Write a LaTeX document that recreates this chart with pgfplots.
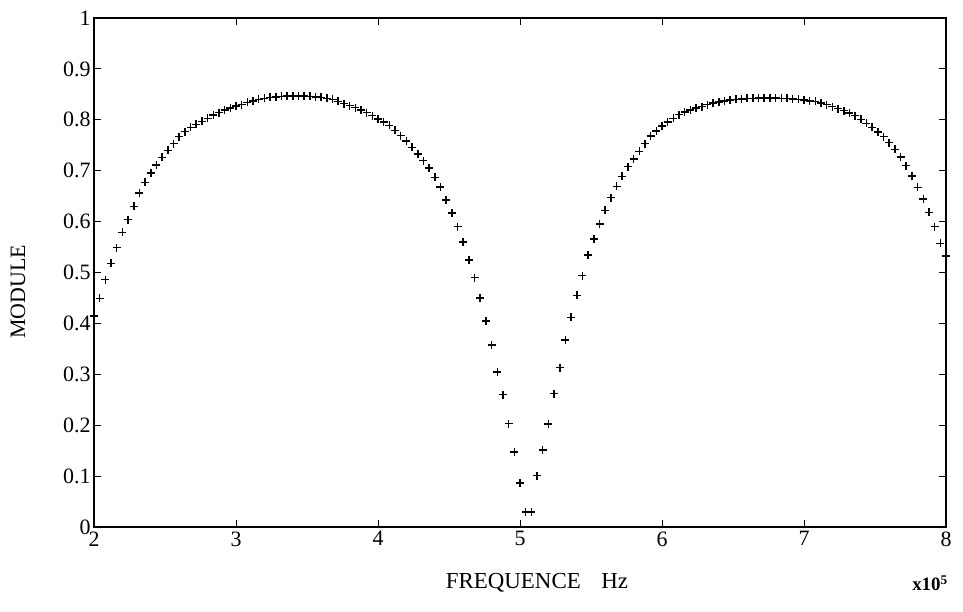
\documentclass[border=0pt]{standalone}
\usepackage{pgfplots}
\pgfplotsset{compat=1.18}
\usepackage{fontspec}
\setmainfont{Liberation Serif}
\begin{document}
\begin{tikzpicture}
\useasboundingbox (-94bp,-85bp) rectangle (869bp,527bp);
\begin{axis}[
  at={(0,0)}, anchor=south west,
  scale only axis, width=852bp, height=509bp,
  xmin=2, xmax=8, ymin=0, ymax=1,
  xtick={2,3,4,5,6,7,8},
  ytick={0,0.1,0.2,0.3,0.4,0.5,0.6,0.7,0.8,0.9,1},
  yticklabels={0,0.1,0.2,0.3,0.4,0.5,0.6,0.7,0.8,0.9,1},
  tick align=inside, major tick length=7bp,
  tick style={line width=1bp, black},
  axis line style={line width=1.3bp},
  /pgf/number format/assume math mode=true,
  ticklabel style={font=\fontsize{22}{26}\selectfont},
  yticklabel style={xshift=0bp},
  xticklabel style={yshift=-1bp},
  clip=false,
]
\addplot[only marks, mark=+, mark size=4bp, line width=1.5bp, black] coordinates {
(2.00,0.415)(2.04,0.449)(2.08,0.486)(2.12,0.518)(2.16,0.549)(2.20,0.579)(2.24,0.604)(2.28,0.630)
(2.32,0.656)(2.36,0.677)(2.40,0.695)(2.44,0.711)(2.48,0.726)(2.52,0.740)(2.56,0.753)(2.60,0.767)
(2.64,0.777)(2.68,0.785)(2.72,0.791)(2.76,0.797)(2.80,0.803)(2.84,0.809)(2.88,0.814)(2.92,0.819)
(2.96,0.823)(3.00,0.827)(3.04,0.830)(3.08,0.834)(3.12,0.837)(3.16,0.840)(3.20,0.842)(3.24,0.844)
(3.28,0.845)(3.32,0.846)(3.36,0.847)(3.40,0.847)(3.44,0.847)(3.48,0.847)(3.52,0.846)(3.56,0.845)
(3.60,0.844)(3.64,0.842)(3.68,0.840)(3.72,0.836)(3.76,0.832)(3.80,0.828)(3.84,0.824)(3.88,0.819)
(3.92,0.814)(3.96,0.808)(4.00,0.802)(4.04,0.796)(4.08,0.789)(4.12,0.779)(4.16,0.769)(4.20,0.758)
(4.24,0.746)(4.28,0.733)(4.32,0.720)(4.36,0.705)(4.40,0.687)(4.44,0.668)(4.48,0.642)(4.52,0.617)
(4.56,0.590)(4.60,0.560)(4.64,0.525)(4.68,0.490)(4.72,0.450)(4.76,0.405)(4.80,0.358)(4.84,0.305)
(4.88,0.260)(4.92,0.203)(4.96,0.147)(5.00,0.086)(5.04,0.029)(5.08,0.029)(5.12,0.101)(5.16,0.151)
(5.20,0.202)(5.24,0.262)(5.28,0.313)(5.32,0.367)(5.36,0.412)(5.40,0.455)(5.44,0.494)(5.48,0.534)
(5.52,0.566)(5.56,0.595)(5.60,0.622)(5.64,0.647)(5.68,0.669)(5.72,0.689)(5.76,0.708)(5.80,0.723)
(5.84,0.738)(5.88,0.753)(5.92,0.768)(5.96,0.778)(6.00,0.788)(6.04,0.796)(6.08,0.803)(6.12,0.810)
(6.16,0.815)(6.20,0.819)(6.24,0.823)(6.28,0.826)(6.32,0.830)(6.36,0.833)(6.40,0.835)(6.44,0.837)
(6.48,0.839)(6.52,0.840)(6.56,0.841)(6.60,0.842)(6.64,0.842)(6.68,0.843)(6.72,0.843)(6.76,0.843)
(6.80,0.843)(6.84,0.842)(6.88,0.842)(6.92,0.841)(6.96,0.840)(7.00,0.839)(7.04,0.837)(7.08,0.836)
(7.12,0.833)(7.16,0.830)(7.20,0.826)(7.24,0.822)(7.28,0.818)(7.32,0.813)(7.36,0.808)(7.40,0.801)
(7.44,0.793)(7.48,0.785)(7.52,0.776)(7.56,0.767)(7.60,0.755)(7.64,0.742)(7.68,0.727)(7.72,0.710)
(7.76,0.690)(7.80,0.667)(7.84,0.644)(7.88,0.618)(7.92,0.590)(7.96,0.557)(8.00,0.532)
};
\end{axis}
\node[rotate=90, font=\fontsize{22}{26}\selectfont] at (-76bp,235bp) {MODULE};
\node[font=\fontsize{23}{26}\selectfont] at (443bp,-56bp) {FREQUENCE\hspace{0.9em}Hz};
\node[font=\fontsize{19}{22}\selectfont\bfseries] at (836bp,-56bp) {x10\textsuperscript{5}};
\end{tikzpicture}
\end{document}
